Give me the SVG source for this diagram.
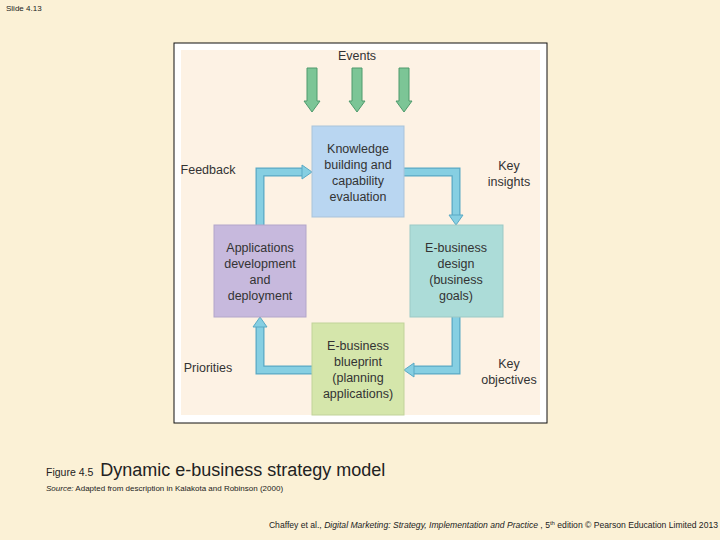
<svg xmlns="http://www.w3.org/2000/svg" width="720" height="540" viewBox="0 0 720 540">
<style>
text{font-family:"Liberation Sans",Arial,sans-serif;fill:#222}
.n{font-size:12.5px;text-anchor:middle;fill:#333}
.l{font-size:12.5px;text-anchor:middle;fill:#333}
.c{fill:none;stroke:#5aa9c4;stroke-width:9}
.ci{fill:none;stroke:#86cfe2;stroke-width:6.5}
.h{fill:#86cfe2;stroke:#5aa9c4;stroke-width:1}
.g{fill:#7cc596;stroke:#4f9a6c;stroke-width:1}
</style>
<rect width="720" height="540" fill="#fbf1d6"/>
<text x="6" y="11" style="font-size:8px">Slide 4.13</text>
<rect x="174" y="43" width="373" height="380" fill="#fff" stroke="#111" stroke-width="1"/>
<rect x="181" y="50" width="359" height="365" fill="#fdf2e4"/>
<text x="357" y="60" class="l">Events</text>
<g id="events">
<polygon class="g" points="307,68 317,68 317,101 320,101 312,112 304,101 307,101"/>
<polygon class="g" points="352,68 362,68 362,101 365,101 357,112 349,101 352,101"/>
<polygon class="g" points="399,68 409,68 409,101 412,101 404,112 396,101 399,101"/>
</g>
<g id="connectors">
<polyline class="c" points="260,225 260,172 303,172"/>
<polyline class="ci" points="260,225 260,172 303,172"/>
<polygon class="h" points="302,165 312,172 302,179"/>
<polyline class="c" points="404,172 456,172 456,216"/>
<polyline class="ci" points="404,172 456,172 456,216"/>
<polygon class="h" points="449,215 456,225 463,215"/>
<polyline class="c" points="456,317 456,370 413,370"/>
<polyline class="ci" points="456,317 456,370 413,370"/>
<polygon class="h" points="414,363 404,370 414,377"/>
<polyline class="c" points="312,370 260,370 260,326"/>
<polyline class="ci" points="312,370 260,370 260,326"/>
<polygon class="h" points="253,327 260,317 267,327"/>
</g>
<g id="knowledge">
<rect x="312" y="126" width="92" height="91" fill="#b9d6f1" stroke="#a9c3da"/>
<text class="n" x="358" y="153">Knowledge</text>
<text class="n" x="358" y="169">building and</text>
<text class="n" x="358" y="185">capability</text>
<text class="n" x="358" y="201">evaluation</text>
</g>
<g id="design">
<rect x="410" y="225" width="93" height="92" fill="#acdcd8" stroke="#9cc9c5"/>
<text class="n" x="456" y="252">E-business</text>
<text class="n" x="456" y="268">design</text>
<text class="n" x="456" y="284">(business</text>
<text class="n" x="456" y="300">goals)</text>
</g>
<g id="blueprint">
<rect x="312" y="323" width="92" height="92" fill="#d5e6ab" stroke="#c1d39a"/>
<text class="n" x="358" y="350">E-business</text>
<text class="n" x="358" y="366">blueprint</text>
<text class="n" x="358" y="382">(planning</text>
<text class="n" x="358" y="398">applications)</text>
</g>
<g id="applications">
<rect x="214" y="225" width="92" height="92" fill="#c7b9dd" stroke="#b3a6c9"/>
<text class="n" x="260" y="252">Applications</text>
<text class="n" x="260" y="268">development</text>
<text class="n" x="260" y="284">and</text>
<text class="n" x="260" y="300">deployment</text>
</g>
<text x="208" y="174" class="l">Feedback</text>
<text x="509" y="170" class="l">Key</text>
<text x="509" y="186" class="l">insights</text>
<text x="208" y="372" class="l">Priorities</text>
<text x="509" y="368" class="l">Key</text>
<text x="509" y="384" class="l">objectives</text>
<text x="46" y="476" style="font-size:10.5px">Figure 4.5 <tspan style="font-size:18px" dx="4">Dynamic e-business strategy model</tspan></text>
<text x="46" y="491" style="font-size:8px"><tspan font-style="italic">Source:</tspan> Adapted from description in Kalakota and Robinson (2000)</text>
<text x="718" y="528" style="font-size:8.6px;text-anchor:end">Chaffey et al., <tspan font-style="italic">Digital Marketing: Strategy, Implementation and Practice</tspan> , 5<tspan dy="-3" font-size="6">th</tspan><tspan dy="3"> edition © Pearson Education Limited 2013</tspan></text>
</svg>
